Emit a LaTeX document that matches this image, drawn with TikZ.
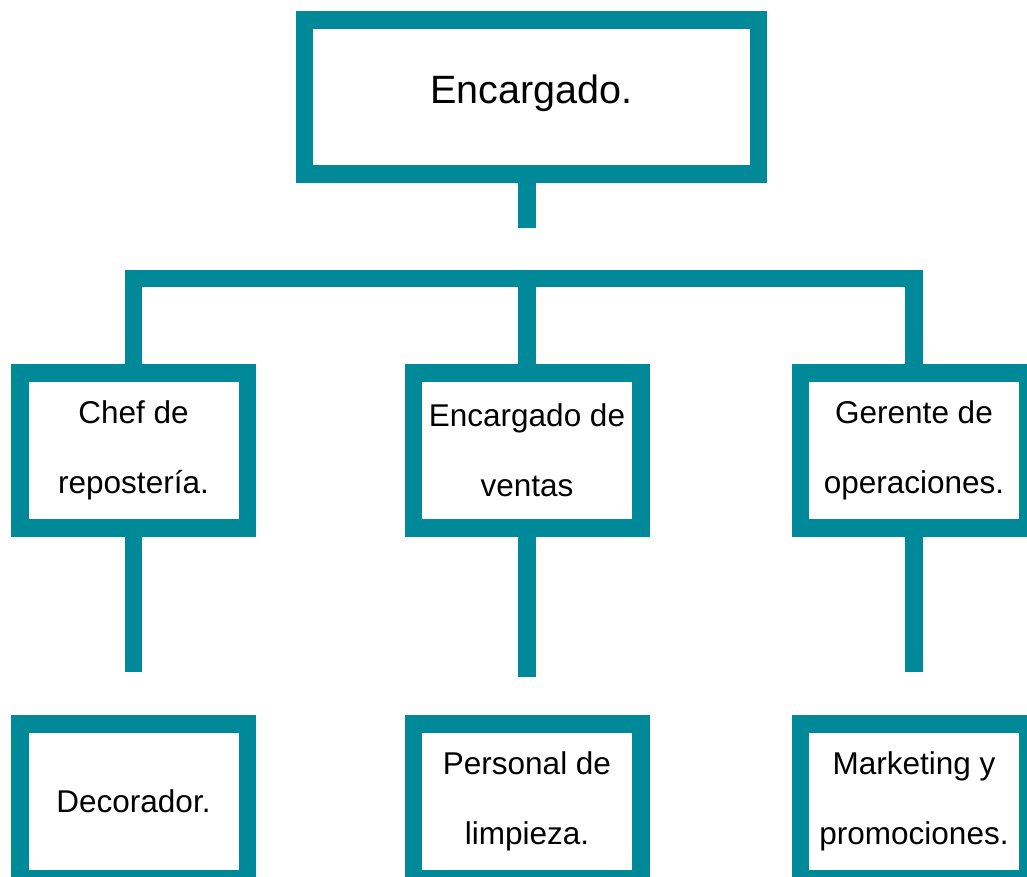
\documentclass[tikz,border=0pt]{standalone}
\usepackage{fontspec}
\setmainfont{Liberation Sans}
\usetikzlibrary{positioning}
\definecolor{orgteal}{RGB}{0,138,153}

\begin{document}
\begin{tikzpicture}[node distance=352pt, line join=miter,
    box node/.style={rectangle, draw=orgteal, line width=17.5pt, inner sep=0pt, minimum width=227.5pt, minimum height=155pt, align=center, font=\fontsize{31.5}{70}\selectfont},
    link/.style={draw=orgteal, line width=17.5pt}]

            \path[use as bounding box, clip] (0,0) rectangle (1027pt,-876pt);

            \node[box node, minimum width=454pt, minimum height=154pt, text depth=15pt, font=\fontsize{39.5}{48}\selectfont] (1) at (531.5pt,-97pt) {Encargado.};

            \node[box node] (2) [below of=1, xshift=-398pt, yshift=-1.5pt]{Chef de\\repostería.};
            \node[box node] (3) [below of=1, xshift=-4.5pt, yshift=-1.5pt]{Encargado de\\ventas};
            \node[box node] (4) [below of=1, xshift=382.5pt, yshift=-1.5pt]{Gerente de\\operaciones.};

            \node[box node] (5) [below of=2, yshift=1pt]{Decorador.};
            \node[box node] (6) [below of=3, yshift=1pt]{Personal de\\limpieza.};
            \node[box node] (7) [below of=4, yshift=1pt]{Marketing y\\promociones.};

            \coordinate[node distance=131pt, below of=1] (1b);
            \coordinate[node distance=181.5pt, below of=1] (bar);
            \coordinate[node distance=221.5pt, below of=2] (2b);
            \coordinate[node distance=226.5pt, below of=3] (3b);
            \coordinate[node distance=221.5pt, below of=4] (4b);

            \draw[link] (1.south -| 3.north) -- (1b -| 3.north);
            \draw[link] (2.north) -- (2.north |- bar) -- (4.north |- bar) -- (4.north);
            \draw[link] (3.north) -- (3.north |- bar);

            \draw[link] (2.south) -- (2b);
            \draw[link] (3.south) -- (3b);
            \draw[link] (4.south) -- (4b);
\end{tikzpicture}
\end{document}
